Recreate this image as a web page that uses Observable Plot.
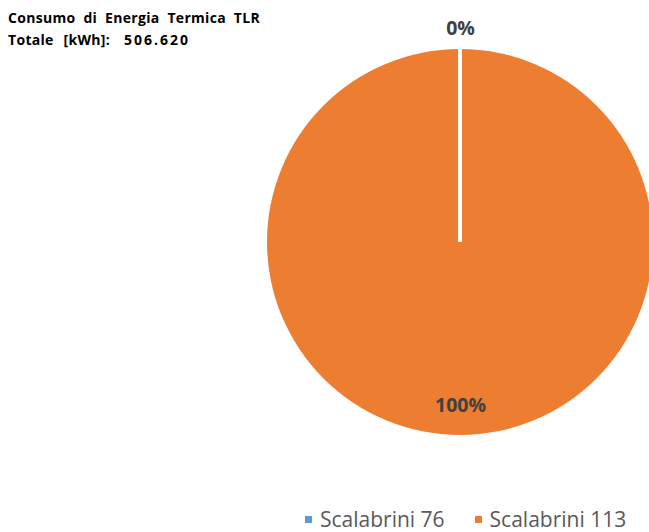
<!DOCTYPE html>
<html>
<head>
<meta charset="utf-8">
<script src="https://cdn.jsdelivr.net/npm/d3@7"></script>
<script src="https://cdn.jsdelivr.net/npm/@observablehq/plot@0.6"></script>
<style>
  html, body { margin: 0; padding: 0; background: #fff; }
  #wrap { position: relative; width: 649px; height: 532px; overflow: hidden; font-family: "Open Sans", sans-serif; }
  #title { position: absolute; left: 8px; top: 7px; font-weight: bold; font-size: 14px; line-height: 22px; color: #000; letter-spacing: 0.3px; white-space: nowrap; }
  #title .l1 { word-spacing: 4px; }
  #title .l2 { word-spacing: 6px; }
  #title .num { margin-left: 14px; letter-spacing: 2px; }
  #legend { position: absolute; left: 305px; top: 505px; font-size: 21px; color: #595959; white-space: nowrap; display: flex; align-items: center; }
  #legend .item { display: flex; align-items: center; margin-right: 30px; }
  #legend .sw { width: 7px; height: 7px; margin-right: 8px; }
  #chart { position: absolute; left: 0; top: 0; }
</style>
</head>
<body>
<div id="wrap">
  <div id="chart"></div>
  <div id="title"><div class="l1">Consumo di Energia Termica TLR</div><div class="l2">Totale [kWh]:<span class="num">506.620</span></div></div>
  <div id="legend"></div>
</div>
<script>
const categories = ["Scalabrini 76", "Scalabrini 113"];
const values = [0, 506620];
const colors = ["#5B9BD5", "#ED7D31"];

const data = categories.map((c, i) => ({name: c, value: values[i]}));
const total = d3.sum(values);
const arcs = d3.pie().sort(null).value(d => d.value)(data);
arcs.forEach(a => {
  a.mid = (a.startAngle + a.endAngle) / 2;
  a.pct = a.data.value / total;
  a.lr = a.pct >= 0.05 ? 0.84 : 1.1;
});

const pieMark = (index, scales, values, dimensions) => {
  const cx = scales.x(0), cy = scales.y(0);
  const r = scales.x(1) - scales.x(0);
  const arcGen = d3.arc().innerRadius(0).outerRadius(r);
  const g = d3.create("svg:g").attr("transform", `translate(${cx},${cy})`);
  // draw larger slices first so the separators of thin slices stay visible
  const order = arcs.slice().sort((a, b) => b.pct - a.pct);
  g.selectAll("path").data(order).join("path")
    .attr("d", arcGen)
    .attr("fill", d => scales.color(d.data.name))
    .attr("stroke", "#fff")
    .attr("stroke-width", d => d.pct < 0.05 ? 4 : 0)
    .attr("stroke-linejoin", "miter");
  return g.node();
};

const chart = Plot.plot({
  width: 649,
  height: 532,
  margin: 0,
  x: {domain: [-1, 1], range: [267, 653], axis: null},
  y: {domain: [-1, 1], range: [436, 48], axis: null},
  color: {domain: categories, range: colors},
  style: {background: "transparent", overflow: "visible"},
  marks: [
    pieMark,
    Plot.text(arcs, {
      x: d => d.lr * Math.sin(d.mid),
      y: d => d.lr * Math.cos(d.mid),
      text: d => d3.format(".0%")(d.pct),
      fill: "#404040",
      fontSize: 19.5,
      fontWeight: "bold",
      fontFamily: "Open Sans, sans-serif"
    })
  ]
});
document.getElementById("chart").appendChild(chart);

const legend = d3.select("#legend");
categories.forEach((c, i) => {
  const it = legend.append("div").attr("class", "item");
  it.append("div").attr("class", "sw").style("background", colors[i]);
  it.append("span").text(c);
});
</script>
</body>
</html>
